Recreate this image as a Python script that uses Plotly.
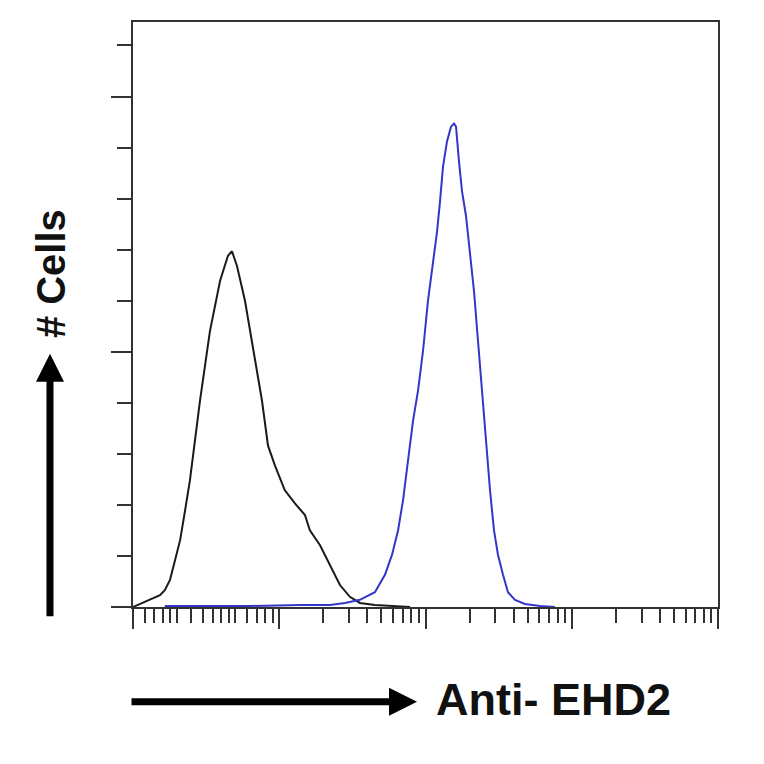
import plotly.graph_objects as go

# Isotype control (black) - fluorescence intensity vs cell count
control_x = [1.0, 1.12, 1.31, 1.53, 1.65, 1.79, 1.94, 2.10, 2.27, 2.45, 2.87, 3.36, 3.94, 4.46,
             4.75, 5.14, 5.83, 6.82, 7.62, 8.38, 9.35, 10.9, 12.8, 15.0, 16.2, 19.0, 22.2,
             26.0, 30.4, 35.6, 45.1, 66.9, 78.4]
control_y = [0, 0.6, 1.4, 2.3, 3.3, 5.3, 9.2, 13.1, 18.9, 24.8, 40.4, 54.1, 63.9, 68.8,
             69.7, 66.8, 60.0, 48.2, 40.4, 31.6, 27.7, 22.9, 20.3, 18.0, 15.0, 12.1, 8.2,
             4.3, 2.0, 0.8, 0.4, 0.2, 0]

# Anti-EHD2 stained (blue)
ehd2_x = [1.65, 2.87, 6.31, 13.9, 22.2, 28.2, 35.6, 45.1, 52.8, 59.0, 64.9, 70.2, 75.9, 82.2,
          88.9, 96.2, 104, 112.5, 120, 125.7, 131.8, 140.3, 149.4, 156.6, 161.7, 169.4,
          177.8, 189.2, 201.4, 214.6, 228.6, 243.4, 259.2, 276.1, 294.0, 313.2, 338.8,
          366.4, 409.3, 478.6, 606.7, 767.4]
ehd2_y = [0.2, 0.2, 0.2, 0.4, 0.4, 0.8, 1.4, 2.9, 6.3, 10.2, 15.0, 20.9, 28.7, 36.5,
          42.4, 50.2, 60.0, 67.8, 73.6, 79.5, 86.3, 91.2, 94.1, 94.7, 94.1, 87.3,
          81.4, 76.6, 69.7, 61.9, 52.1, 42.4, 32.6, 22.9, 15.0, 10.2, 6.3,
          2.9, 1.4, 0.6, 0.2, 0]

x_major = [1, 10, 100, 1000, 10000]
x_minor = [1.2, 1.4, 1.6, 1.8, 2.5, 3.5, 4.5] + \
          [m * d for d in [1, 10, 100, 1000] for m in range(2, 10)]
y_major = [0, 50, 100]
y_minor = [10, 20, 30, 40, 60, 70, 80, 90, 110]

fig = go.Figure()
fig.add_trace(go.Scatter(x=control_x, y=control_y, mode="lines",
                         line=dict(color="#1a1a1a", width=2), showlegend=False))
fig.add_trace(go.Scatter(x=ehd2_x, y=ehd2_y, mode="lines",
                         line=dict(color="#3535c8", width=2), showlegend=False))

axis_col = "#333333"
fig.update_xaxes(type="log", range=[0, 4], showline=True, mirror=True, linecolor=axis_col,
                 linewidth=2, showgrid=False, zeroline=False, ticks="outside",
                 tickvals=x_major, ticklen=20, tickwidth=2, tickcolor=axis_col,
                 showticklabels=False,
                 minor=dict(tickvals=x_minor, ticks="outside", ticklen=14, tickwidth=2,
                            tickcolor=axis_col, showgrid=False))
fig.update_yaxes(range=[0, 114.6], showline=True, mirror=True, linecolor=axis_col,
                 linewidth=2, showgrid=False, zeroline=False, ticks="outside",
                 tickvals=y_major, ticklen=20, tickwidth=2, tickcolor=axis_col,
                 showticklabels=False,
                 minor=dict(tickvals=y_minor, ticks="outside", ticklen=14, tickwidth=2,
                            tickcolor=axis_col, showgrid=False))

font_fam = "Liberation Sans, Arial, sans-serif"
# axis arrows
fig.add_annotation(xref="paper", yref="paper", x=0.4855, y=-0.1618, ax=-287, ay=0,
                   text="", showarrow=True, arrowhead=2, arrowsize=0.8, arrowwidth=7,
                   arrowcolor="#000000")
fig.add_annotation(xref="paper", yref="paper", x=-0.1419, y=0.4327, ax=0, ay=264,
                   text="", showarrow=True, arrowhead=2, arrowsize=0.8, arrowwidth=7,
                   arrowcolor="#000000")
fig.add_annotation(xref="paper", yref="paper", x=0.514, y=-0.1584, xanchor="left",
                   yanchor="middle", text="<b>Anti- EHD2</b>", showarrow=False,
                   font=dict(family=font_fam, size=45, color="#111111"))
fig.add_annotation(xref="paper", yref="paper", x=-0.1402, y=0.5707, xanchor="center",
                   yanchor="middle", text="<b># Cells</b>", textangle=-90, showarrow=False,
                   font=dict(family=font_fam, size=40, color="#111111"))

fig.update_layout(width=756, height=756, margin=dict(l=125, r=46, t=12, b=157),
                  paper_bgcolor="white", plot_bgcolor="white")

fig.write_html("out.html")
